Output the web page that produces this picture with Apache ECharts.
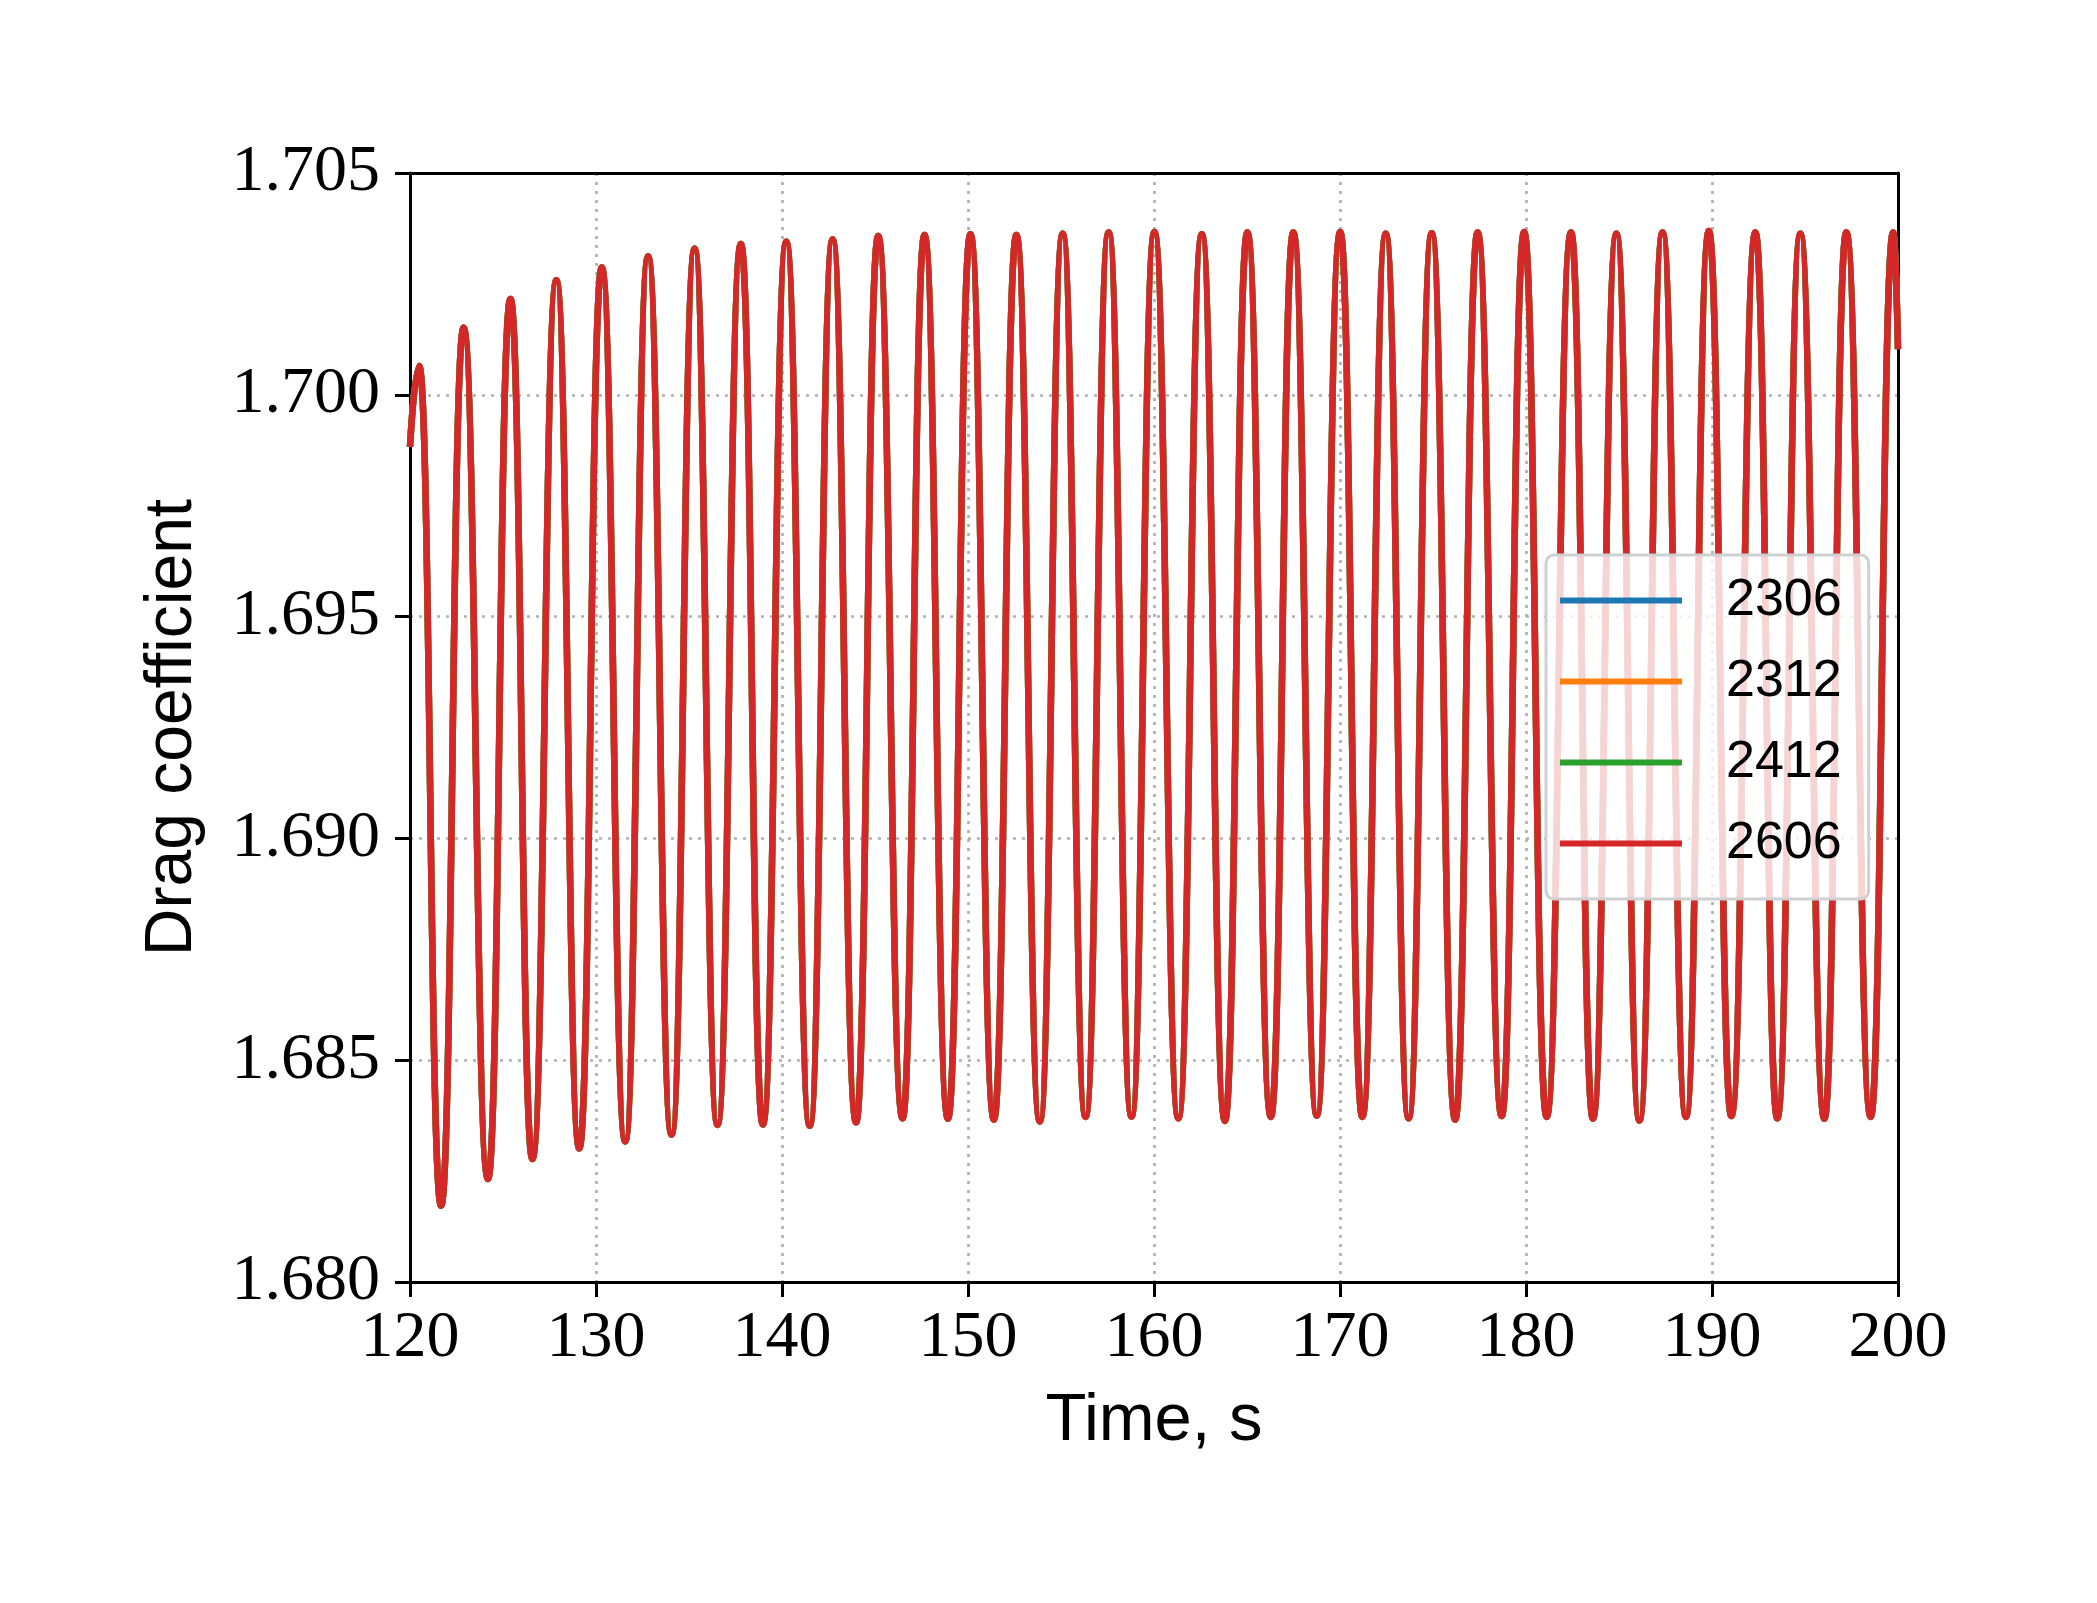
<!DOCTYPE html>
<html>
<head>
<meta charset="utf-8">
<script src="https://cdn.jsdelivr.net/npm/echarts@6/dist/echarts.min.js"></script>
<style>
html, body { margin: 0; padding: 0; background: #fff; }
#chart { width: 2097px; height: 1603px; }
</style>
</head>
<body>
<div id="chart"></div>
<script>
// time of each extremum (s)
var time = [120.0,
  120.49, 121.67, 122.88, 124.19, 125.40, 126.58, 127.87, 129.10,
  130.31, 131.57, 132.80, 134.06, 135.30, 136.53, 137.79, 138.97,
  140.23, 141.49, 142.72, 143.98, 145.17, 146.48, 147.66, 148.92,
  150.13, 151.39, 152.60, 153.86, 155.09, 156.32, 157.56, 158.79,
  160.02, 161.31, 162.57, 163.81, 165.02, 166.28, 167.49, 168.75,
  170.01, 171.20, 172.46, 173.69, 174.93, 176.19, 177.40, 178.69,
  179.90, 181.11, 182.42, 183.60, 184.86, 186.10, 187.34, 188.60,
  189.83, 191.04, 192.33, 193.51, 194.75, 196.04, 197.22, 198.53,
  199.74, 200.0];
// drag coefficient at those times (peak, trough, peak, ...)
var cd = [1.69883,
  1.70065, 1.68172, 1.70151, 1.68232, 1.70216, 1.68277, 1.70258, 1.68301,
  1.70287, 1.68317, 1.70312, 1.68332, 1.70329, 1.68354, 1.70340, 1.68355,
  1.70345, 1.68352, 1.70350, 1.68360, 1.70358, 1.68369, 1.70360, 1.68368,
  1.70362, 1.68366, 1.70360, 1.68362, 1.70363, 1.68372, 1.70366, 1.68373,
  1.70367, 1.68369, 1.70362, 1.68363, 1.70366, 1.68372, 1.70366, 1.68375,
  1.70367, 1.68372, 1.70363, 1.68369, 1.70364, 1.68366, 1.70366, 1.68374,
  1.70367, 1.68372, 1.70366, 1.68368, 1.70363, 1.68364, 1.70366, 1.68372,
  1.70369, 1.68374, 1.70366, 1.68369, 1.70363, 1.68368, 1.70366, 1.68372,
  1.70366, 1.70103];
// the four runs lie on top of each other in the picture
var runs = ['2306', '2312', '2412', '2606'];
var colors = ['#1f77b4', '#ff7f0e', '#2ca02c', '#d62728'];

var chart = echarts.init(document.getElementById('chart'));
var pts = time.map(function (t, i) { return [t, cd[i]]; });

var gridLine = { show: true, lineStyle: { color: '#b0b0b0', width: 2.7, type: [3, 6] } };
var frame = { show: true, onZero: false, lineStyle: { color: '#000', width: 3 } };

var option = {
    animation: false,
    backgroundColor: '#fff',
    grid: { left: 410, top: 173, width: 1488, height: 1109 },
    legend: {
        orient: 'vertical',
        left: 1546, top: 555,
        data: runs,
        icon: 'rect',
        itemWidth: 122, itemHeight: 6,
        itemGap: 28,
        padding: [19, 27, 29, 14],
        backgroundColor: 'rgba(255,255,255,0.8)',
        borderColor: '#d0d0d0', borderWidth: 3, borderRadius: 8,
        textStyle: {
            fontFamily: 'Liberation Sans', fontSize: 52, lineHeight: 53,
            color: '#000', padding: [0, 0, 0, 39]
        }
    },
    xAxis: [{
        type: 'value', min: 120, max: 200, interval: 10, position: 'bottom',
        name: 'Time, s', nameLocation: 'middle', nameGap: 106,
        nameTextStyle: { fontFamily: 'Liberation Sans', fontSize: 67, color: '#000' },
        axisLine: frame,
        axisTick: { inside: false, length: 15, lineStyle: { color: '#000', width: 3 } },
        axisLabel: { fontFamily: 'Liberation Serif', fontSize: 66, color: '#000', margin: 24 },
        splitLine: gridLine
    }, {
        type: 'value', min: 120, max: 200, position: 'top',
        axisLine: frame, axisTick: { show: false }, axisLabel: { show: false }, splitLine: { show: false }
    }],
    yAxis: [{
        type: 'value', min: 1.680, max: 1.705, interval: 0.005, position: 'left',
        name: 'Drag coefficient', nameLocation: 'middle', nameGap: 204, nameRotate: 90,
        nameTextStyle: { fontFamily: 'Liberation Sans', fontSize: 66, color: '#000' },
        axisLine: frame,
        axisTick: { show: true, inside: false, length: 15, lineStyle: { color: '#000', width: 3 } },
        axisLabel: {
            fontFamily: 'Liberation Serif', fontSize: 66, color: '#000', margin: 30,
            formatter: function (v) { return v.toFixed(3); }
        },
        splitLine: gridLine
    }, {
        type: 'value', min: 1.680, max: 1.705, position: 'right',
        axisLine: frame, axisTick: { show: false }, axisLabel: { show: false }, splitLine: { show: false }
    }],
    series: runs.map(function (name, k) {
        return {
            name: name,
            type: 'line',
            xAxisIndex: 0, yAxisIndex: 0,
            data: pts,
            showSymbol: false,
            symbol: 'none',
            smooth: 0.5,
            smoothMonotone: 'x',
            color: colors[k],
            lineStyle: { color: colors[k], width: 6.5 },
            clip: true
        };
    })
};
chart.setOption(option);
</script>
</body>
</html>
